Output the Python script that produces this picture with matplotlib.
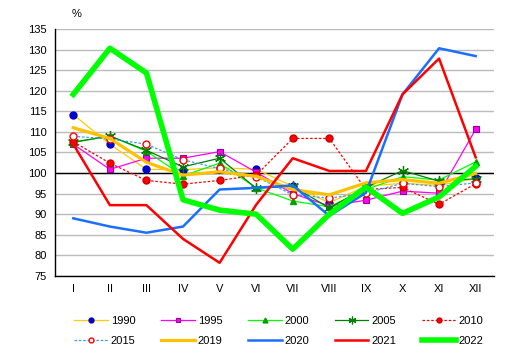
import matplotlib.pyplot as plt
import numpy as np

plt.rcParams['font.family'] = ['Liberation Sans', 'DejaVu Sans']
plt.rcParams['font.size'] = 8

months = ['I', 'II', 'III', 'IV', 'V', 'VI', 'VII', 'VIII', 'IX', 'X', 'XI', 'XII']

# values in %
y1990 = [114.2, 107.0, 100.9, 100.8, 101.3, 100.9, 96.8, 92.8, 96.8, 97.5, 97.0, 98.7]
y1995 = [107.0, 100.9, 103.6, 103.6, 105.2, 100.2, 95.0, 92.0, 93.4, 95.6, 95.1, 110.6]
y2000 = [107.4, 109.0, 105.3, 99.3, 102.4, 96.4, 93.2, 91.8, 96.0, 99.1, 98.3, 102.7]
y2005 = [107.5, 109.0, 105.5, 101.5, 103.6, 96.3, 96.8, 91.5, 96.5, 100.6, 98.0, 98.6]
y2010 = [107.6, 102.4, 98.2, 97.3, 98.2, 99.5, 108.4, 108.4, 96.0, 96.5, 92.4, 97.4]
y2015 = [108.9, 108.3, 107.0, 103.2, 101.1, 99.1, 94.7, 93.9, 95.1, 97.5, 96.7, 97.6]
y2019 = [111.0, 108.4, 102.6, 99.5, 100.3, 99.2, 96.0, 94.7, 97.6, 98.4, 97.5, 99.9]
y2020 = [89.0, 87.0, 85.5, 87.0, 96.0, 96.4, 97.0, 89.6, 95.2, 119.1, 130.3, 128.4]
y2021 = [107.0, 92.2, 92.2, 84.0, 78.2, 92.3, 103.6, 100.5, 100.5, 119.1, 127.8, 103.8]
y2022 = [119.1, 130.3, 124.3, 93.5, 91.0, 90.0, 81.5, 90.0, 96.6, 90.2, 94.2, 101.6]

x = np.arange(len(months))

fig = plt.figure(figsize=(5.14, 3.57), dpi=100)
ax = fig.add_axes([0.107, 0.227, 0.854, 0.692])

ax.set_xlim(-0.5, 11.5)
ax.set_ylim(75, 135)
ax.set_yticks(np.arange(75, 136, 5))
ax.set_xticks(x)
ax.set_xticklabels(months)
ax.yaxis.grid(True, color='#BBBBBB', linewidth=1.0)
ax.set_axisbelow(True)
ax.axhline(100, color='black', linewidth=1.0, zorder=1.5)
for s in ['top', 'right']:
    ax.spines[s].set_visible(False)
ax.spines['left'].set_linewidth(1.0)
ax.spines['bottom'].set_linewidth(1.0)
ax.tick_params(length=0, pad=6)

lines = {}
lines['1990'] = ax.plot(x, y1990, color='#FFCC00', lw=0.9, marker='o', ms=5,
                        mfc='#0000CC', mec='#0000CC')[0]
lines['1995'] = ax.plot(x, y1995, color='#FF00FF', lw=0.9, marker='s', ms=5,
                        mfc='#FF00FF', mec='#990099', mew=0.8)[0]
lines['2000'] = ax.plot(x, y2000, color='#00FF00', lw=0.9, marker='^', ms=5,
                        mfc='#00A000', mec='#00A000')[0]
lines['2005'] = ax.plot(x, y2005, color='#008000', lw=0.9, marker=(6, 2, 0), ms=8,
                        mfc='#008000', mec='#008000', mew=0.9)[0]
lines['2010'] = ax.plot(x, y2010, color='#FF0000', lw=0.9, ls=(0, (2, 1.5)), marker='o', ms=5,
                        mfc='#FF0000', mec='#CC0000')[0]
lines['2015'] = ax.plot(x, y2015, color='#3399FF', lw=0.9, ls=(0, (2, 1.5)), marker='o', ms=5,
                        mfc='white', mec='#FF0000', mew=1.0)[0]
lines['2019'] = ax.plot(x, y2019, color='#FFC000', lw=2.3)[0]
lines['2020'] = ax.plot(x, y2020, color='#1A6FFF', lw=1.8)[0]
lines['2021'] = ax.plot(x, y2021, color='#FF0000', lw=1.8)[0]
lines['2022'] = ax.plot(x, y2022, color='#00FF00', lw=4.0)[0]

ax.text(0.05, 1.06, '%', transform=ax.transAxes, fontsize=8, ha='center', va='center')

order = ['1990', '2015', '1995', '2019', '2000', '2020', '2005', '2021', '2010', '2022']
leg = fig.legend([lines[k] for k in order], order, ncol=5, loc='lower left',
                 bbox_to_anchor=(0.125, 0.003), frameon=False, handlelength=3.0,
                 handletextpad=0.3, columnspacing=2.3, labelspacing=0.9,
                 markerscale=0.7)

fig.savefig('out.png', dpi=100)
